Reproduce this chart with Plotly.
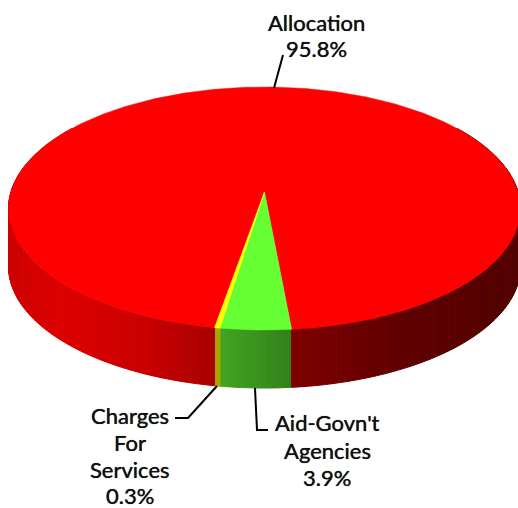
import math
import plotly.graph_objects as go

# Data
categories = ["Aid-Govn't Agencies", "Charges For Services", "Allocation"]
shares = [3.9, 0.3, 95.8]
slice_colors = [(102, 255, 51), (255, 255, 0), (255, 0, 0)]
label_lines = [
    ["Aid-Govn't", "Agencies", "3.9%"],
    ["Charges", "For", "Services", "0.3%"],
    ["Allocation", "95.8%"],
]

# Projection of the pie disc into the picture
CX, CY = 264.5, 192.0
K = 0.1358
A = 93.2
RX = 253.6
DEPTH = 58
START_DEG = 5.3
FONT = "Lato"
FONT_SIZE = 22


def project(t):
    u, v = math.sin(t), math.cos(t)
    w = 1 - K * v
    return CX + RX * u / w, (CY + A * v) / w


def shade_at(x):
    stops = [(8, .80), (60, .87), (150, .78), (214, .66), (291, .50), (393, .38), (518, .32)]
    for (x0, s0), (x1, s1) in zip(stops, stops[1:]):
        if x <= x1:
            return s0 + (s1 - s0) * max(0, x - x0) / (x1 - x0)
    return stops[-1][1]


fig = go.Figure()
bounds = []
angle = math.radians(START_DEG)
for share, col in zip(shares, slice_colors):
    end = angle - math.radians(share * 3.6)
    bounds.append((angle, end, col))
    angle = end

# Side wall (front part only), built from narrow strips so that it shades across the width
STEP = math.radians(1.0)
LIMIT = math.radians(125)
for a0, a1, col in bounds:
    segs = []
    for shift in (0, 2 * math.pi):
        hi, lo = min(a0 + shift, LIMIT), max(a1 + shift, -LIMIT)
        if hi > lo:
            segs.append((hi, lo))
    for hi, lo in segs:
        n = max(1, int((hi - lo) / STEP))
        for i in range(n):
            t0 = hi - (hi - lo) * i / n
            t1 = hi - (hi - lo) * (i + 1) / n
            x0, y0 = project(t0)
            x1, y1 = project(t1)
            s = shade_at((x0 + x1) / 2)
            c = "rgb(%d,%d,%d)" % tuple(round(ch * s) for ch in col)
            fig.add_trace(go.Scatter(
                x=[x0, x1, x1, x0, x0], y=[y0, y1, y1 + DEPTH, y0 + DEPTH, y0],
                mode="lines", fill="toself", fillcolor=c,
                line=dict(color=c, width=1), hoverinfo="skip", showlegend=False))

# Top face, largest slice first
for a0, a1, col in sorted(bounds, key=lambda b: b[1] - b[0]):
    n = max(2, int((a0 - a1) / math.radians(1)))
    pts = [project(a0 - (a0 - a1) * i / n) for i in range(n + 1)]
    xs = [CX] + [p[0] for p in pts] + [CX]
    ys = [CY] + [p[1] for p in pts] + [CY]
    c = "rgb(%d,%d,%d)" % col
    fig.add_trace(go.Scatter(x=xs, y=ys, mode="lines", fill="toself", fillcolor=c,
                             line=dict(color=c, width=0.5), hoverinfo="skip", showlegend=False))

# Leader lines
leaders = [
    ([255, 257, 268], [388, 430, 430]),
    ([217, 188, 175], [386, 418, 418]),
    ([283, 274], [55, 88]),
]
for lx, ly in leaders:
    fig.add_trace(go.Scatter(x=lx, y=ly, mode="lines", line=dict(color="black", width=2),
                             hoverinfo="skip", showlegend=False))

label_x = [327, 130, 316]
label_y = [[422, 450, 477], [415, 442, 469, 495], [22, 48]]
for lines, lx, ys in zip(label_lines, label_x, label_y):
    for txt, ly in zip(lines, ys):
        fig.add_annotation(x=lx, y=ly, text=txt, showarrow=False, xanchor="center", yanchor="middle",
                           align="center",
                           font=dict(family=FONT, size=FONT_SIZE, color="#111111",
                                     shadow="0 0 0.7px #111111"))

fig.update_layout(
    width=518, height=508, margin=dict(l=0, r=0, t=0, b=0),
    paper_bgcolor="white", plot_bgcolor="white", showlegend=False,
    xaxis=dict(range=[0, 518], visible=False, fixedrange=True),
    yaxis=dict(range=[508, 0], visible=False, fixedrange=True),
)
fig.write_html("out.html", config=dict(displayModeBar=False),
               post_script="document.body.style.margin='0';")
